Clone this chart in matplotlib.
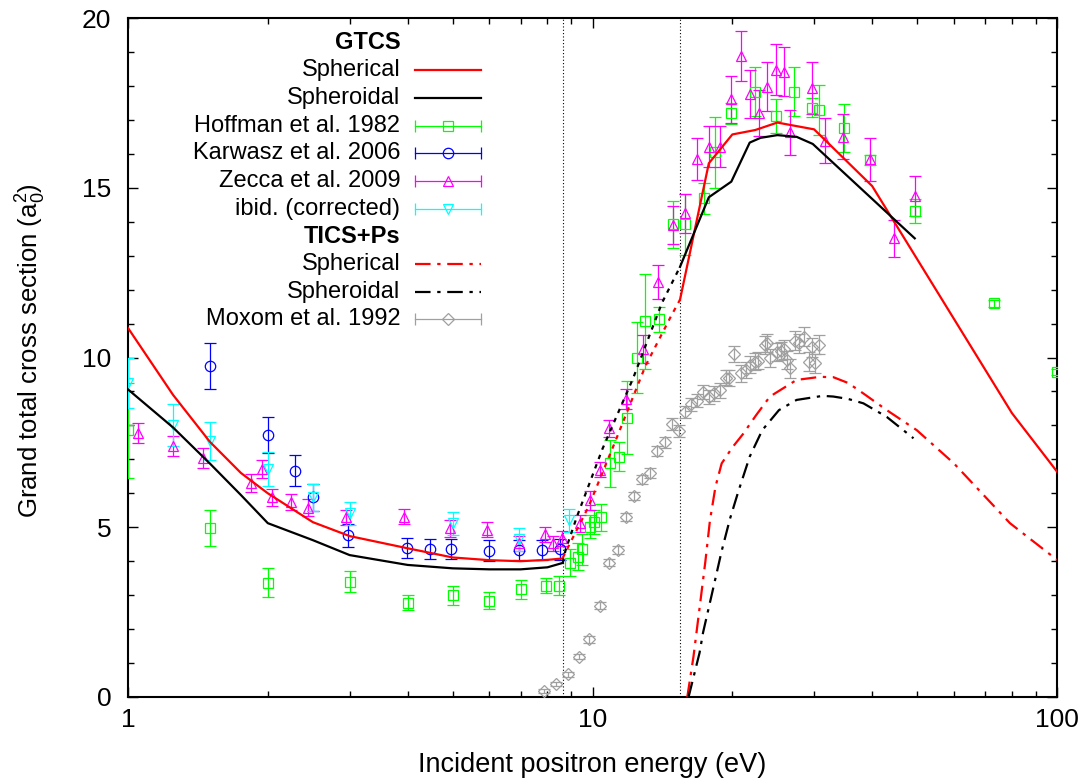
import numpy as np
import matplotlib.pyplot as plt

plt.rcParams['font.family'] = ['Liberation Sans', 'DejaVu Sans']
plt.rcParams['mathtext.fontset'] = 'custom'
plt.rcParams['mathtext.rm'] = 'Liberation Sans'
plt.rcParams['mathtext.it'] = 'Liberation Sans'

# thresholds (Ps formation, ionisation), eV
thresholds = [8.63, 15.43]

# GTCS theory
sph_E1 = [1.0, 1.25, 1.5, 1.75, 2.0, 2.5, 3.0, 4.0, 5.0, 6.0, 7.0, 8.0, 8.63]
sph_s1 = [10.87, 8.9, 7.52, 6.6, 6.0, 5.15, 4.74, 4.38, 4.11, 4.03, 4.0, 4.04, 4.08]
sph_Ed = [8.63, 9.0, 9.8, 11.15, 13.0, 14.8, 15.43]
sph_sd = [4.1, 4.6, 5.6, 7.47, 9.75, 11.25, 11.7]
sph_E2 = [15.43, 17.8, 20.0, 22.4, 25.0, 30.0, 40.0, 80.0, 100.0]
sph_s2 = [11.7, 15.72, 16.57, 16.7, 16.92, 16.72, 15.05, 8.36, 6.64]

spd_E1 = [1.0, 1.25, 1.5, 1.75, 2.0, 2.5, 3.0, 4.0, 5.0, 6.0, 7.0, 8.0, 8.63]
spd_s1 = [9.06, 7.94, 6.88, 5.95, 5.12, 4.62, 4.18, 3.89, 3.79, 3.76, 3.76, 3.82, 3.95]
spd_Ed = [8.63, 8.75, 9.25, 10.5, 12.24, 14.1, 15.43]
spd_sd = [3.95, 4.33, 5.3, 7.3, 9.4, 11.6, 12.67]
spd_E2 = [15.43, 17.8, 19.9, 21.8, 23.0, 25.0, 27.5, 29.8, 49.4]
spd_s2 = [12.67, 14.72, 15.18, 16.33, 16.47, 16.55, 16.5, 16.29, 13.51]

# TICS + Ps theory
tsph_E = [16.0, 16.5, 17.03, 17.5, 17.9, 18.4, 18.97, 20.0, 21.1, 22.5, 24.1,
          27.5, 30.9, 33.0, 35.5, 38.3, 43.0, 49.9, 60.0, 79.2, 100.0]
tsph_s = [0.0, 1.2, 2.7, 4.0, 5.2, 6.2, 6.88, 7.35, 7.75, 8.3, 8.85,
          9.34, 9.43, 9.42, 9.25, 8.94, 8.45, 7.86, 6.88, 5.12, 4.04]
tspd_E = [16.1, 17.0, 17.3, 18.05, 18.97, 19.77, 20.6, 21.8, 23.2, 25.2, 27.5,
          31.3, 33.0, 35.5, 38.3, 43.0, 49.1]
tspd_s = [0.0, 1.3, 1.9, 3.0, 4.3, 5.25, 6.05, 7.08, 7.86, 8.45, 8.75,
          8.87, 8.85, 8.78, 8.65, 8.25, 7.62]

# experiments
hof_E = [1.0, 1.5, 2.0, 3.0, 4.0, 5.0, 6.0, 7.0, 7.95, 8.46, 8.94, 9.32, 9.5,
         9.88, 10.05, 10.43, 10.9, 11.38, 11.88, 12.45, 12.95, 13.93, 14.9,
         15.85, 17.35, 18.38, 19.88, 22.33, 24.83, 27.2, 29.7, 30.8, 34.8,
         39.6, 49.4, 73.3, 100.0]
hof_s = [7.86, 4.98, 3.37, 3.4, 2.78, 3.0, 2.84, 3.17, 3.28, 3.28, 3.96, 4.13,
         4.35, 5.02, 5.15, 5.29, 6.88, 7.08, 8.23, 9.99, 11.07, 11.13, 13.92,
         13.92, 14.69, 16.04, 17.19, 17.83, 17.12, 17.83, 17.36, 17.29, 16.77,
         15.82, 14.32, 11.6, 9.57]
hof_e = [1.4, 0.54, 0.42, 0.31, 0.23, 0.28, 0.25, 0.28, 0.23, 0.28, 0.4, 0.4,
         0.45, 0.35, 0.35, 0.4, 0.7, 0.42, 1.08, 1.05, 1.4, 0.37, 0.7, 0.9,
         0.45, 1.05, 0.3, 0.72, 0.5, 0.72, 0.27, 0.73, 0.71, 0.15, 0.35, 0.1,
         0.1]

kar_E = [1.5, 2.0, 2.29, 2.5, 2.97, 3.98, 4.47, 4.96, 5.98, 6.93, 7.8, 8.5]
kar_s = [9.75, 7.72, 6.67, 5.88, 4.77, 4.38, 4.36, 4.36, 4.31, 4.33, 4.33, 4.35]
kar_e = [0.69, 0.54, 0.46, 0.39, 0.34, 0.3, 0.3, 0.3, 0.3, 0.3, 0.3, 0.3]

zec_E = [1.05, 1.25, 1.45, 1.84, 1.94, 2.04, 2.24, 2.44, 2.94, 3.93, 4.94,
         5.93, 6.93, 7.9, 8.23, 8.6, 9.4, 9.9, 10.39, 10.85, 11.8, 12.85,
         13.87, 14.88, 15.85, 16.8, 17.8, 18.83, 19.83, 20.83, 21.8, 22.8,
         23.8, 24.8, 25.8, 26.6, 29.7, 31.6, 34.7, 39.6, 44.5, 49.4]
zec_s = [7.77, 7.39, 7.03, 6.31, 6.71, 5.88, 5.75, 5.58, 5.29, 5.31, 4.97,
         4.92, 4.53, 4.79, 4.53, 4.68, 5.12, 5.8, 6.7, 7.92, 8.77, 10.25,
         12.23, 13.9, 14.25, 15.85, 16.21, 16.21, 17.6, 18.88, 17.76, 17.21,
         17.98, 18.47, 18.42, 16.63, 17.93, 16.39, 16.5, 15.84, 13.51, 14.77]
zec_e = [0.3, 0.3, 0.29, 0.26, 0.27, 0.25, 0.23, 0.25, 0.22, 0.22, 0.25,
         0.22, 0.22, 0.22, 0.22, 0.22, 0.25, 0.28, 0.22, 0.25, 0.3, 0.42,
         0.5, 0.55, 0.58, 0.63, 0.6, 0.6, 0.69, 0.75, 0.7, 0.68, 0.71, 0.75,
         0.73, 0.67, 0.76, 0.65, 0.66, 0.64, 0.55, 0.59]

ibd_E = [1.0, 1.25, 1.5, 2.0, 2.5, 3.0, 5.0, 6.96, 8.9]
ibd_s = [9.24, 8.01, 7.55, 6.71, 5.88, 5.41, 5.12, 4.65, 5.21]
ibd_e = [0.74, 0.63, 0.56, 0.5, 0.4, 0.34, 0.34, 0.34, 0.34]

mox_E = [7.87, 8.35, 8.85, 9.37, 9.85, 10.4, 10.84, 11.33, 11.8, 12.3, 12.8,
         13.3, 13.8, 14.32, 14.8, 15.35, 15.83, 16.3, 16.8, 17.3, 17.8, 18.3,
         18.8, 19.4, 19.7, 20.2, 20.9, 21.4, 21.8, 22.4, 22.7, 23.5, 23.7,
         24.1, 24.9, 25.5, 25.9, 26.2, 26.6, 27.3, 27.9, 28.5, 29.2, 29.7,
         30.1, 30.7]
mox_s = [0.18, 0.38, 0.67, 1.19, 1.7, 2.69, 3.96, 4.33, 5.31, 5.92, 6.41,
         6.59, 7.25, 7.5, 8.04, 7.83, 8.4, 8.62, 8.73, 8.99, 8.83, 8.95, 9.04,
         9.41, 9.39, 10.1, 9.53, 9.63, 9.78, 9.88, 9.9, 10.37, 10.42, 9.99,
         10.17, 10.19, 10.24, 9.93, 9.68, 10.49, 10.42, 10.61, 9.88, 10.3,
         9.83, 10.37]
mox_e = [0.05, 0.06, 0.07, 0.08, 0.1, 0.1, 0.1, 0.12, 0.12, 0.13, 0.14, 0.15,
         0.15, 0.16, 0.17, 0.17, 0.18, 0.2, 0.2, 0.21, 0.21, 0.22, 0.22, 0.23,
         0.23, 0.24, 0.24, 0.24, 0.25, 0.25, 0.25, 0.26, 0.26, 0.26, 0.26,
         0.27, 0.27, 0.27, 0.27, 0.28, 0.28, 0.28, 0.28, 0.28, 0.28, 0.28]

GREEN = '#00ff00'
BLUE = '#0000ff'
MAG = '#ff00ff'
CYAN = '#00ffff'
GREY = '#a0a0a0'

fig = plt.figure(figsize=(10.85, 7.83), dpi=100)
ax = fig.add_axes([128/1085, 1-697/783, 929/1085, 679/783])

for t in thresholds:
    ax.axvline(t, color='black', ls=(0, (1, 2)), lw=0.8, zorder=1)

ebkw = dict(mfc='none', ms=7.5, mew=0.9, elinewidth=0.9, capsize=4.5,
            capthick=0.9, ls='none', zorder=3)
ax.errorbar(mox_E, mox_s, yerr=mox_e, fmt='D', color=GREY, **dict(ebkw, ms=6))
ax.errorbar(hof_E, hof_s, yerr=hof_e, fmt='s', color=GREEN, **ebkw)
ax.errorbar(kar_E, kar_s, yerr=kar_e, fmt='o', color=BLUE, **ebkw)
ax.errorbar(zec_E, zec_s, yerr=zec_e, fmt='^', color=MAG, **ebkw)
ax.errorbar(ibd_E, ibd_s, yerr=ibd_e, fmt='v', color=CYAN, **ebkw)

lw = 1.6
ax.plot(sph_E1, sph_s1, color='red', lw=lw, zorder=4)
ax.plot(sph_Ed, sph_sd, color='red', lw=lw, ls=(0, (2, 2.5)), zorder=4)
ax.plot(sph_E2, sph_s2, color='red', lw=lw, zorder=4)
ax.plot(spd_E1, spd_s1, color='black', lw=lw, zorder=4)
ax.plot(spd_Ed, spd_sd, color='black', lw=lw, ls=(0, (2, 2.5)), zorder=4)
ax.plot(spd_E2, spd_s2, color='black', lw=lw, zorder=4)
dashdot = (0, (7, 3, 1.5, 3))
ax.plot(tsph_E, tsph_s, color='red', lw=lw, ls=dashdot, zorder=4)
ax.plot(tspd_E, tspd_s, color='black', lw=lw, ls=dashdot, zorder=4)

ax.set_xscale('log')
ax.set_xlim(1, 100)
ax.set_ylim(0, 20)
ax.set_yticks([0, 5, 10, 15, 20])
ax.set_yticks(np.arange(0, 21, 1), minor=True)
ax.set_xticks([1, 10, 100])
ax.set_xticklabels(['1', '10', '100'])
ax.tick_params(which='both', direction='in', top=True, right=True,
               labelsize=19, width=1.0)
ax.tick_params(which='major', length=7)
ax.tick_params(which='minor', length=4)
ax.tick_params(axis='x', which='both', pad=8)
ax.tick_params(axis='y', which='both', pad=12)
ax.xaxis.set_minor_formatter(plt.NullFormatter())
for sp in ax.spines.values():
    sp.set_linewidth(1.5)

ax.set_xlabel('Incident positron energy (eV)', fontsize=19.5)
ax.xaxis.label.set_va('center')
ax.xaxis.set_label_coords(0.5, -0.1)
ax.set_ylabel(r'Grand total cross section (a$_0^2$)', fontsize=18.5)
ax.yaxis.set_label_coords(-0.086, 0.51)

# gnuplot-style key
tx, hx0, hx1 = 0.293, 0.309, 0.380
y0, dy = 0.964, 0.0408
entries = [
    ('GTCS', None),
    ('Spherical', ('line', 'red', '-')),
    ('Spheroidal', ('line', 'black', '-')),
    ('Hoffman et al. 1982', ('err', GREEN, 's')),
    ('Karwasz et al. 2006', ('err', BLUE, 'o')),
    ('Zecca et al. 2009', ('err', MAG, '^')),
    ('ibid. (corrected)', ('err', CYAN, 'v')),
    ('TICS+Ps', None),
    ('Spherical', ('line', 'red', dashdot)),
    ('Spheroidal', ('line', 'black', dashdot)),
    ('Moxom et al. 1992', ('err', GREY, 'D')),
]
for i, (lab, h) in enumerate(entries):
    y = y0 - i*dy
    ax.text(tx, y, lab, transform=ax.transAxes, ha='right', va='center',
            fontsize=17, fontweight='bold' if h is None else 'normal')
    if h is None:
        continue
    kind, col, st = h
    if kind == 'line':
        ax.plot([hx0, hx1], [y, y], transform=ax.transAxes, color=col,
                lw=lw, ls=st, clip_on=False)
    else:
        ax.plot([hx0, hx1], [y, y], transform=ax.transAxes, color=col,
                lw=0.9, clip_on=False)
        ax.plot([hx0, hx1], [y, y], transform=ax.transAxes, color=col,
                ls='none', marker='|', ms=9, mew=0.9, clip_on=False)
        ax.plot([(hx0+hx1)/2], [y], transform=ax.transAxes, color=col,
                ls='none', marker=st, ms=7.5 if st != 'D' else 6, mfc='none',
                mew=0.9, clip_on=False)

fig.savefig('out.png', dpi=100)
